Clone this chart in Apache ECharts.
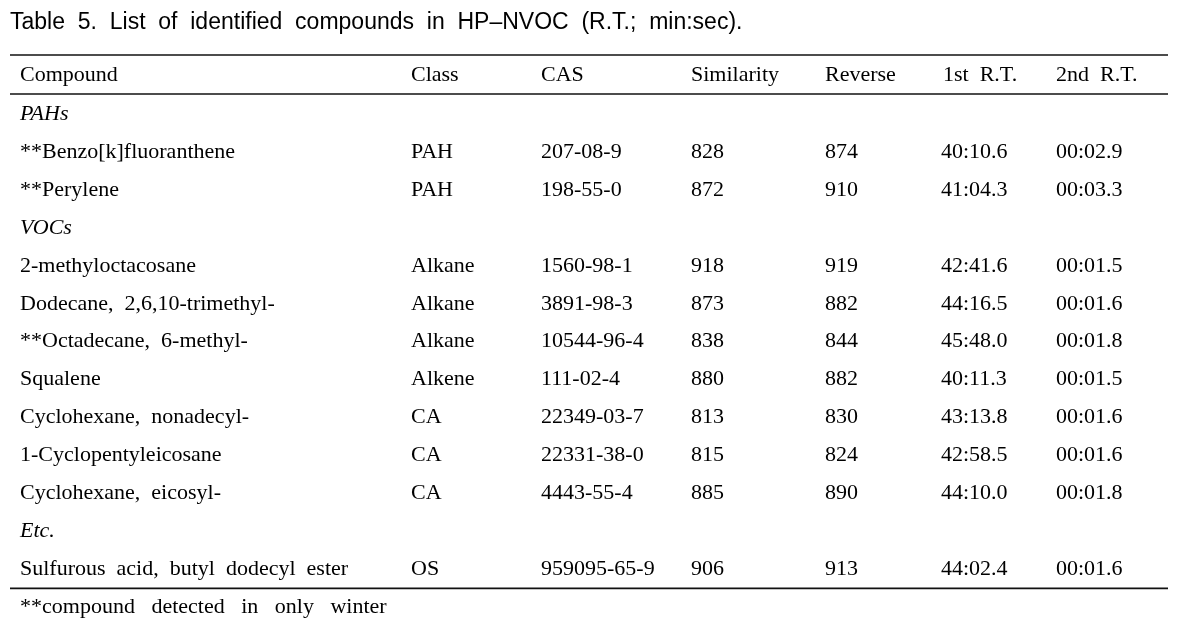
<!DOCTYPE html>
<html>
<head>
<meta charset="utf-8">
<script src="https://cdn.jsdelivr.net/npm/echarts@6/dist/echarts.min.js"></script>
<style>
html,body{margin:0;padding:0;background:#fff;}
#main{width:1188px;height:627px;}
</style>
</head>
<body>
<div id="main"></div>
<script>
// ---- data ----
const title = 'Table 5. List of identified compounds in HP–NVOC (R.T.; min:sec).';
const headers = ['Compound', 'Class', 'CAS', 'Similarity', 'Reverse', '1st R.T.', '2nd R.T.'];
const groups = ['PAHs', 'VOCs', 'Etc.'];
const groupOf = [0, 0, 1, 1, 1, 1, 1, 1, 1, 2];
const compounds = [
  '**Benzo[k]fluoranthene', '**Perylene',
  '2-methyloctacosane', 'Dodecane, 2,6,10-trimethyl-', '**Octadecane, 6-methyl-',
  'Squalene', 'Cyclohexane, nonadecyl-', '1-Cyclopentyleicosane', 'Cyclohexane, eicosyl-',
  'Sulfurous acid, butyl dodecyl ester'
];
const classes = ['PAH', 'PAH', 'Alkane', 'Alkane', 'Alkane', 'Alkene', 'CA', 'CA', 'CA', 'OS'];
const casNumbers = ['207-08-9', '198-55-0', '1560-98-1', '3891-98-3', '10544-96-4', '111-02-4',
  '22349-03-7', '22331-38-0', '4443-55-4', '959095-65-9'];
const similarity = [828, 872, 918, 873, 838, 880, 813, 815, 885, 906];
const reverse = [874, 910, 919, 882, 844, 882, 830, 824, 890, 913];
const rt1 = ['40:10.6', '41:04.3', '42:41.6', '44:16.5', '45:48.0', '40:11.3', '43:13.8', '42:58.5', '44:10.0', '44:02.4'];
const rt2 = ['00:02.9', '00:03.3', '00:01.5', '00:01.6', '00:01.8', '00:01.5', '00:01.6', '00:01.6', '00:01.8', '00:01.6'];
const footnote = '**compound detected in only winter';

// ---- layout ----
const colX = [20, 411, 541, 691, 825, 941, 1056];
const headerColX = [20, 411, 541, 691, 825, 943, 1056];
const lineX1 = 10, lineX2 = 1168;
const topLineY = 55, headLineY = 94, headY = 75;
const firstRowY = 114, rowH = 37.95;
const serif = '22px "Liberation Serif", "Times New Roman", serif';
const serifItalic = 'italic 22px "Liberation Serif", "Times New Roman", serif';
const sans = '23px "Liberation Sans", Arial, sans-serif';
const wide = s => s.replace(/ /g, '  ');
const wider = s => s.replace(/ /g, '   ');

function txt(x, y, text, font) {
  return { type: 'text', x: x, y: y, silent: true,
    style: { text: text, font: font, fill: '#000', align: 'left', verticalAlign: 'middle' } };
}
function hline(y) {
  return { type: 'line', silent: true,
    shape: { x1: lineX1, y1: y, x2: lineX2, y2: y },
    style: { stroke: '#111', lineWidth: 1.6 } };
}

const elements = [];
elements.push(txt(10, 23, wide(title), sans));
elements.push(hline(topLineY));
headers.forEach((h, i) => elements.push(txt(headerColX[i], headY, wide(h), serif)));
elements.push(hline(headLineY));

let row = 0;
let lastGroup = -1;
compounds.forEach((c, i) => {
  if (groupOf[i] !== lastGroup) {
    lastGroup = groupOf[i];
    elements.push(txt(colX[0], firstRowY + row * rowH, groups[lastGroup], serifItalic));
    row++;
  }
  const y = firstRowY + row * rowH;
  const cells = [c, classes[i], casNumbers[i], String(similarity[i]), String(reverse[i]), rt1[i], rt2[i]];
  cells.forEach((v, j) => elements.push(txt(colX[j], y, wide(v), serif)));
  row++;
});
const bottomY = firstRowY + (row - 1) * rowH + 19;
elements.push(hline(bottomY));
elements.push(txt(colX[0], bottomY + 19, wider(footnote), serif));

const chart = echarts.init(document.getElementById('main'), null, { renderer: 'canvas' });
chart.setOption({
  backgroundColor: '#fff',
  animation: false,
  graphic: { elements: elements }
});
</script>
</body>
</html>
